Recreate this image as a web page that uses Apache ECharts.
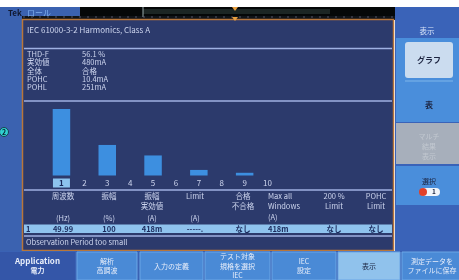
<!DOCTYPE html>
<html>
<head>
<meta charset="utf-8">
<script src="https://cdn.jsdelivr.net/npm/echarts@6/dist/echarts.min.js"></script>
<style>
html,body{margin:0;padding:0;background:#fff;}
#main{width:459px;height:280px;}
</style>
</head>
<body>
<div id="main"></div>
<script>
// 高調波の次数と電流値(mA)
var orders = ['1','2','3','4','5','6','7','8','9','10'];
var currents = [418, 0, 192, 0, 126, 0, 35, 0, 17, 0];

// 上部の測定サマリー
var infoLabels = ['THD-F', '実効値', '全体', 'POHC', 'POHL'];
var infoValues = ['56.1 %', '480mA', '合格', '10.4mA', '251mA'];

// 表のヘッダと1行目
var tableHeads = [['周波数'], ['振幅'], ['振幅', '実効値'], ['Limit'], ['合格', '不合格'], ['Max all', 'Windows', '(A)'], ['200 %', 'Limit'], ['POHC', 'Limit']];
var tableUnits = ['(Hz)', '(%)', '(A)', '(A)', '', '', '', ''];
var tableRow = ['49.99', '100', '418m', '-----.', 'なし', '418m', 'なし', 'なし'];
var colX = [63, 109, 152, 195, 243, 268, 334, 376];

// 下部と右側のボタン
var bottomBtns = [['Application', '電力'], ['解析', '高調波'], ['入力の定義'], ['テスト対象', '規格を選択', 'IEC'], ['IEC', '設定'], ['表示'], ['測定データを', 'ファイルに保存']];
var bottomX = [0, 77, 140, 205, 272, 338, 402];
var bottomW = [75, 60, 63, 65, 64, 62, 60];

var FONT = '"Noto Sans CJK JP", "DejaVu Sans", sans-serif';
var TXT = '#cdd5ee';

function txt(x, y, s, opt) {
    opt = opt || {};
    return {
        type: 'text', x: x, y: y, z: 20,
        style: {
            text: s, fill: opt.fill || TXT, font: (opt.bold ? 'bold ' : '') + (opt.size || 8) + 'px ' + FONT,
            textAlign: opt.align || 'left', textVerticalAlign: 'middle'
        }
    };
}
function rect(x, y, w, h, fill, opt) {
    opt = opt || {};
    return {
        type: 'rect', z: opt.z || 1, shape: {x: x, y: y, width: w, height: h, r: opt.r || 0},
        style: {fill: fill, stroke: opt.stroke || null, lineWidth: opt.lw || 1}
    };
}
function hline(x1, x2, y, color, w) {
    return {type: 'line', z: 5, shape: {x1: x1, y1: y, x2: x2, y2: y}, style: {stroke: color, lineWidth: w || 1}};
}

var g = [];
// 外枠
g.push(rect(0, 7, 22, 244, '#3b62b0'));
g.push(rect(0, 7, 80, 12, '#3b62b0'));
g.push(txt(8, 12.5, 'Tek', {fill: '#101830', bold: true, size: 8}));
g.push(txt(27, 12.5, 'ロール', {fill: '#7fb0f0', size: 8}));
g.push(rect(80, 7, 315, 10, '#050808'));
g.push(rect(143, 9, 187, 5, '#1c2624'));
g.push({type: 'line', z: 3, shape: {x1: 143, y1: 7, x2: 143, y2: 17}, style: {stroke: '#9aa', lineWidth: 1}});
g.push(rect(22, 16, 373, 4, '#101418'));
for (var t = 24; t < 393; t += 8) {
    g.push({type: 'line', z: 3, shape: {x1: t, y1: 16, x2: t, y2: 18}, style: {stroke: '#556', lineWidth: 1}});
}
g.push({type: 'polygon', z: 6, shape: {points: [[232, 7], [238, 7], [235, 11]]}, style: {fill: '#e8a040'}});
g.push({type: 'polygon', z: 6, shape: {points: [[232, 17], [238, 17], [235, 21]]}, style: {fill: '#e8a040'}});

// メインパネル
g.push(rect(22.5, 19.5, 371, 231, '#2c3a6c', {stroke: '#b8763a', lw: 1.5}));
g.push(txt(27, 30, 'IEC 61000-3-2 Harmonics, Class A', {size: 8}));
g.push(hline(24, 392, 48.5, '#9fb1e2', 1.5));
for (var i = 0; i < infoLabels.length; i++) {
    g.push(txt(27, 54 + i * 8.4, infoLabels[i], {size: 7.5}));
    g.push(txt(82, 54 + i * 8.4, infoValues[i], {size: 7.5}));
}
g.push(hline(24, 392, 101, '#9fb1e2', 1.5));
g.push(hline(24, 392, 190, '#9fb1e2', 1.5));

// 表
for (var c = 0; c < tableHeads.length; c++) {
    var al = c === 5 ? 'left' : 'center';
    for (var k = 0; k < tableHeads[c].length; k++) {
        g.push(txt(colX[c], 196 + k * 10.5, tableHeads[c][k], {size: 7.5, align: al}));
    }
    if (tableUnits[c]) g.push(txt(colX[c], 218, tableUnits[c], {size: 7.5, align: al}));
}
g.push(rect(24, 224.5, 368, 8.5, '#8fc3ee', {z: 4}));
g.push(txt(26, 228.8, '1', {fill: '#1a2a5c', bold: true, size: 7.5}));
for (var c = 0; c < tableRow.length; c++) {
    g.push(txt(colX[c], 228.8, tableRow[c], {fill: '#1a2a5c', bold: true, size: 7.5, align: c === 5 ? 'left' : 'center'}));
}
g.push(hline(24, 392, 236, '#9fb1e2', 1.5));
g.push(txt(26, 242.5, 'Observation Period too small', {size: 7.5}));

// 左のチャンネル表示
g.push({type: 'circle', z: 8, shape: {cx: 4, cy: 132, r: 4.5}, style: {fill: '#30d0d0', stroke: '#1a4050'}});
g.push(txt(4, 132, '2', {fill: '#0a2030', bold: true, size: 7, align: 'center'}));

// 右パネル
g.push(rect(395, 7, 64, 244, '#3a63b8'));
g.push(rect(396, 38, 63, 84, '#4a8edb'));
g.push(txt(427, 31, '表示', {fill: '#d8e4f8', size: 7.5, align: 'center'}));
g.push(rect(405, 42, 48, 36, '#cbdcef', {r: 3, z: 3}));
g.push(txt(429, 60, 'グラフ', {fill: '#1c2440', bold: true, size: 8, align: 'center'}));
g.push(hline(405, 453, 81, '#7fb6ea', 1));
g.push(txt(429, 105, '表', {fill: '#1c2440', bold: true, size: 8, align: 'center'}));
g.push(rect(396, 123, 63, 41, '#a7afbb'));
g.push(txt(429, 136, 'マルチ', {fill: '#c2c8d0', size: 7, align: 'center'}));
g.push(txt(429, 146, '結果', {fill: '#c2c8d0', size: 7, align: 'center'}));
g.push(txt(429, 156, '表示', {fill: '#c2c8d0', size: 7, align: 'center'}));
g.push(rect(396, 166, 63, 39, '#4a8edb'));
g.push(txt(429, 181, '選択', {fill: '#1c2440', size: 7, align: 'center'}));
g.push(rect(420, 188, 20, 8, '#f0f4fa', {r: 4, z: 3}));
g.push({type: 'circle', z: 4, shape: {cx: 423, cy: 192, r: 4}, style: {fill: '#e0402a'}});
g.push(txt(434, 192, '1', {fill: '#1c2440', bold: true, size: 6.5, align: 'center'}));
g.push(rect(396, 207, 63, 44, '#3a63b8'));

// 下部ボタン
g.push(rect(0, 251, 459, 29, '#3a62b4'));
for (var b = 0; b < bottomBtns.length; b++) {
    var fill = b === 0 ? '#3456a8' : (b === 5 ? '#90c2ec' : '#4a8ad6');
    var col = b === 5 ? '#1c2440' : '#e8eefa';
    g.push(rect(bottomX[b], 252, bottomW[b], 28, fill, {z: 2, stroke: b === 0 ? null : '#6aa6e6'}));
    var lines = bottomBtns[b];
    var cx = bottomX[b] + bottomW[b] / 2;
    var y0 = 266 - (lines.length - 1) * 4.8;
    for (var k = 0; k < lines.length; k++) {
        g.push(txt(cx, y0 + k * 9.6, lines[k], {fill: col, bold: b === 0, size: b === 0 && k === 0 ? 8 : 7, align: 'center'}));
    }
}

var chart = echarts.init(document.getElementById('main'));
chart.setOption({
    animation: false,
    grid: {left: 50, width: 229, top: 109, bottom: 104.5},
    xAxis: {
        type: 'category', data: orders, z: 30,
        axisLine: {show: false}, axisTick: {show: false},
        axisLabel: {
            color: TXT, fontSize: 8, fontFamily: FONT, margin: 3, interval: 0,
            formatter: function (v) { return v === '1' ? '{sel|1}' : v; },
            rich: {sel: {backgroundColor: '#8cc3ee', color: '#1a2a5c', fontSize: 8, width: 17, height: 9, align: 'center', fontWeight: 'bold'}}
        }
    },
    yAxis: {type: 'value', min: 0, max: 418, show: false, splitLine: {show: false}},
    series: [{
        type: 'bar', data: currents, barWidth: 17.5, z: 10,
        itemStyle: {color: '#3d8fe0'}
    }],
    graphic: g
});
</script>
</body>
</html>
